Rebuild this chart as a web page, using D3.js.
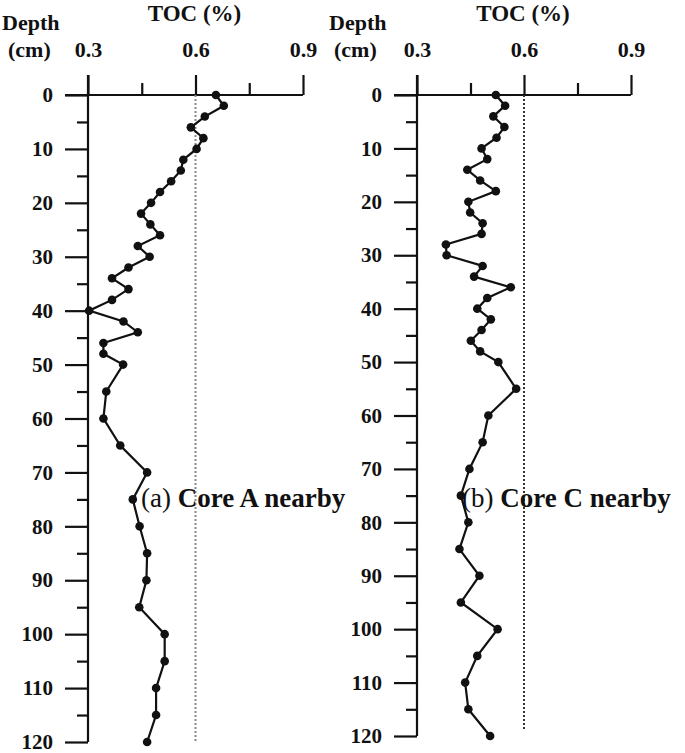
<!DOCTYPE html>
<html>
<head>
<meta charset="utf-8">
<script src="https://cdn.jsdelivr.net/npm/d3@7"></script>
<style>
  body { margin: 0; background: #fff; }
  .bold { font-weight: bold; }
  .axis .domain { display: none; }
  .axis line { stroke: #111; stroke-width: 2.2; }
  .axis text { font-size: 21px; font-weight: bold; }
  .x-axis text { font-size: 22px; }
</style>
</head>
<body>
<div id="chart"></div>
<script>
// DATA
const depths = [0, 2, 4, 6, 8, 10, 12, 14, 16, 18, 20, 22, 24, 26, 28, 30, 32, 34, 36, 38,
  40, 42, 44, 46, 48, 50, 55, 60, 65, 70, 75, 80, 85, 90, 95, 100, 105, 110, 115, 120];

const tocA = [0.657, 0.679, 0.626, 0.587, 0.622, 0.603, 0.566, 0.559, 0.532, 0.501,
  0.476, 0.448, 0.474, 0.501, 0.439, 0.472, 0.413, 0.367, 0.413, 0.367,
  0.303, 0.399, 0.439, 0.343, 0.343, 0.398, 0.351, 0.343, 0.390, 0.465,
  0.425, 0.444, 0.465, 0.463, 0.443, 0.514, 0.514, 0.490, 0.490, 0.465];

const tocC = [0.521, 0.547, 0.514, 0.545, 0.523, 0.481, 0.497, 0.441, 0.477, 0.521,
  0.444, 0.449, 0.484, 0.481, 0.381, 0.383, 0.484, 0.460, 0.563, 0.497,
  0.469, 0.507, 0.481, 0.451, 0.477, 0.528, 0.578, 0.500, 0.484, 0.447,
  0.423, 0.444, 0.419, 0.475, 0.423, 0.526, 0.469, 0.435, 0.444, 0.505];

const xMajor = [0.3, 0.6, 0.9];
const xMinor = [0.45, 0.75];
const yMajor = [0, 10, 20, 30, 40, 50, 60, 70, 80, 90, 100, 110, 120];
const yMinor = [5, 15, 25, 35, 45, 55, 65, 75, 85, 95, 105, 115];
const refLine = 0.6;

const panels = [
  { label: "(a)", name: "Core A nearby", values: tocA, x0: 88, x1: 303, yBottom: 742,
    refBottom: 742, refColor: "#888", depthX: 2, cmX: 8, annX: 141 },
  { label: "(b)", name: "Core C nearby", values: tocC, x0: 417, x1: 631, yBottom: 736,
    refBottom: 730, refColor: "#333", depthX: 329, cmX: 334, annX: 462 }
];

const width = 685, height = 753, axisTop = 95;
const serif = "'Liberation Serif', 'DejaVu Serif', 'Times New Roman', serif";

const svg = d3.select("#chart").append("svg")
  .attr("width", width)
  .attr("height", height);

panels.forEach(p => {
  const x = d3.scaleLinear().domain([0.3, 0.9]).range([p.x0, p.x1]);
  const y = d3.scaleLinear().domain([0, 120]).range([axisTop, p.yBottom]);
  const g = svg.append("g");

  // axis lines
  g.append("line")
    .attr("x1", p.x0 - 23).attr("x2", x(0.9))
    .attr("y1", y(0)).attr("y2", y(0))
    .attr("stroke", "#111").attr("stroke-width", 2.2);
  g.append("line")
    .attr("x1", x(0.3)).attr("x2", x(0.3))
    .attr("y1", axisTop - 20).attr("y2", y(120))
    .attr("stroke", "#111").attr("stroke-width", 2.2);

  // top axis (major with labels, minor without)
  g.append("g").attr("class", "axis x-axis")
    .attr("transform", `translate(0,${axisTop})`)
    .call(d3.axisTop(x).tickValues(xMajor).tickSize(20).tickPadding(18).tickFormat(d3.format(".1f")));
  g.append("g").attr("class", "axis")
    .attr("transform", `translate(0,${axisTop})`)
    .call(d3.axisTop(x).tickValues(xMinor).tickSize(12).tickFormat(""));

  // left axis
  g.append("g").attr("class", "axis")
    .attr("transform", `translate(${p.x0},0)`)
    .call(d3.axisLeft(y).tickValues(yMajor).tickSize(23).tickPadding(12));
  g.append("g").attr("class", "axis")
    .attr("transform", `translate(${p.x0},0)`)
    .call(d3.axisLeft(y).tickValues(yMinor).tickSize(11).tickFormat(""));

  // dotted reference line at 0.6
  g.append("line")
    .attr("x1", x(refLine)).attr("x2", x(refLine))
    .attr("y1", y(0)).attr("y2", p.refBottom)
    .attr("stroke", p.refColor).attr("stroke-width", 2)
    .attr("stroke-dasharray", "2,2");

  // titles
  g.append("text").attr("class", "bold")
    .attr("x", (x(0.3) + x(0.9)) / 2 - 1).attr("y", 21)
    .attr("text-anchor", "middle").attr("font-size", 23)
    .text("TOC (%)");
  g.append("text").attr("class", "bold")
    .attr("x", p.depthX).attr("y", 30).attr("font-size", 22)
    .text("Depth");
  g.append("text").attr("class", "bold")
    .attr("x", p.cmX).attr("y", 57).attr("font-size", 22)
    .text("(cm)");

  // data line and dots
  const pts = depths.map((d, i) => ({ depth: d, toc: p.values[i] }));
  const line = d3.line().x(d => x(d.toc)).y(d => y(d.depth));
  g.append("path")
    .datum(pts)
    .attr("d", line)
    .attr("fill", "none")
    .attr("stroke", "#111")
    .attr("stroke-width", 2.2);
  g.selectAll(".dot")
    .data(pts)
    .join("circle")
    .attr("class", "dot")
    .attr("cx", d => x(d.toc))
    .attr("cy", d => y(d.depth))
    .attr("r", 4.3)
    .attr("fill", "#111");

  // annotation
  const ann = g.append("text")
    .attr("x", p.annX).attr("y", 507)
    .attr("font-size", 27);
  ann.append("tspan").text(p.label + " ");
  ann.append("tspan").attr("font-weight", "bold").text(p.name);
});

// serif where available, set inline so the axis group attributes don't override it
svg.selectAll("g").attr("font-family", null);
svg.selectAll("text").style("font-family", serif).style("fill", "#111");
</script>
</body>
</html>
